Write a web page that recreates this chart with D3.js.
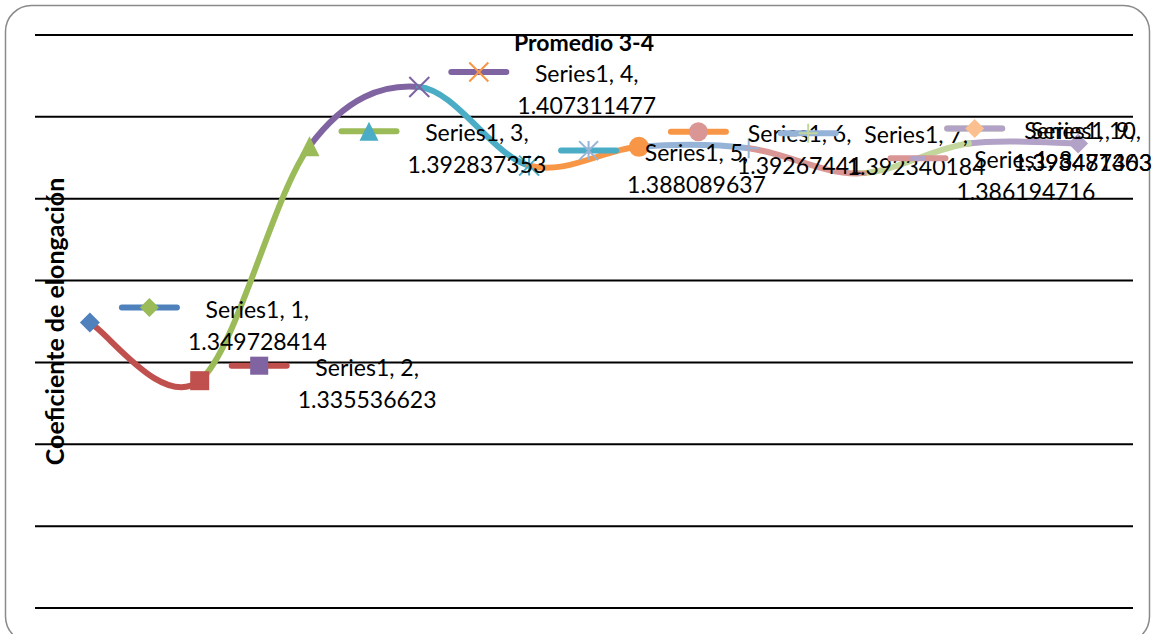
<!DOCTYPE html>
<html>
<head>
<meta charset="utf-8">
<script src="https://cdn.jsdelivr.net/npm/d3@7"></script>
<style>
  html, body { margin: 0; padding: 0; background: #fff; }
  svg { display: block; }
  text { font-family: Lato, "Open Sans", sans-serif; fill: #000; }
</style>
</head>
<body>
<svg id="chart" width="1155" height="634"></svg>
<script>
// Coeficiente de elongación por muestra (Promedio 3-4)
const seriesName = "Series1";
const categories = [1, 2, 3, 4, 5, 6, 7, 8, 9, 10];
const values = [1.349728414, 1.335536623, 1.392837353, 1.407311477, 1.388089637,
                1.39267441, 1.392340184, 1.386194716, 1.393487463, 1.393471303];
const valueLabels = ["1.349728414", "1.335536623", "1.392837353", "1.407311477", "1.388089637",
                     "1.39267441", "1.392340184", "1.386194716", "1.393487463", "1.393471303"];
const yTicks = [1.28, 1.30, 1.32, 1.34, 1.36, 1.38, 1.40, 1.42];
const chartTitle = "Promedio 3-4";
const yTitle = "Coeficiente de elongación";

// Office palette used when colours vary by point
const palette = ["#4F81BD", "#C0504D", "#9BBB59", "#8064A2", "#4BACC6", "#F79646",
                 "#95B3D7", "#D99694", "#C3D69B", "#B3A2C7", "#93CDDD", "#FAC090"];
const markerCycle = ["diamond", "square", "triangle", "x", "star", "circle", "plus", "dash", "dot"];

const svg = d3.select("#chart");
const plot = { left: 35, right: 1133, top: 35, bottom: 608 };

// chart area frame
svg.append("rect")
  .attr("x", 5.5).attr("y", 5.5)
  .attr("width", 1144).attr("height", 637)
  .attr("rx", 26).attr("ry", 26)
  .attr("fill", "#fff")
  .attr("stroke", "#8a8a8a").attr("stroke-width", 1.5);

const x = d3.scalePoint().domain(categories).range([plot.left, plot.right]).padding(0.5);
const y = d3.scaleLinear().domain([1.28, 1.42]).range([plot.bottom, plot.top]);

// horizontal gridlines
svg.append("g").selectAll("line").data(yTicks).join("line")
  .attr("x1", plot.left).attr("x2", plot.right)
  .attr("y1", d => y(d)).attr("y2", d => y(d))
  .attr("stroke", "#000").attr("stroke-width", 2);

const pts = categories.map((c, i) => ({ c, v: values[i], px: x(c), py: y(values[i]), i }));

// smoothed line, one segment per point, coloured by the point it ends at
const k = 1 / 6;
const segG = svg.append("g");
for (let i = 0; i < pts.length - 1; i++) {
  const p0 = pts[Math.max(i - 1, 0)], p1 = pts[i], p2 = pts[i + 1], p3 = pts[Math.min(i + 2, pts.length - 1)];
  const path = d3.path();
  path.moveTo(p1.px, p1.py);
  path.bezierCurveTo(
    p1.px + k * (p2.px - p0.px), p1.py + k * (p2.py - p0.py),
    p2.px - k * (p3.px - p1.px), p2.py - k * (p3.py - p1.py),
    p2.px, p2.py);
  segG.append("path")
    .attr("d", path.toString())
    .attr("fill", "none")
    .attr("stroke", palette[(i + 1) % palette.length])
    .attr("stroke-width", 6)
    .attr("stroke-linecap", "round");
}

function drawMarker(g, shape, cx, cy, color, s) {
  const h = s / 2;
  if (shape === "diamond") {
    g.append("path").attr("d", `M${cx},${cy - h}L${cx + h},${cy}L${cx},${cy + h}L${cx - h},${cy}Z`).attr("fill", color);
  } else if (shape === "square") {
    g.append("rect").attr("x", cx - h * 0.95).attr("y", cy - h * 0.95).attr("width", s * 0.95).attr("height", s * 0.95).attr("fill", color);
  } else if (shape === "triangle") {
    g.append("path").attr("d", `M${cx},${cy - h}L${cx + h},${cy + h}L${cx - h},${cy + h}Z`).attr("fill", color);
  } else if (shape === "x") {
    g.append("path").attr("d", `M${cx - h},${cy - h}L${cx + h},${cy + h}M${cx + h},${cy - h}L${cx - h},${cy + h}`)
      .attr("stroke", color).attr("stroke-width", 2).attr("fill", "none");
  } else if (shape === "star") {
    g.append("path").attr("d", `M${cx - h},${cy - h}L${cx + h},${cy + h}M${cx + h},${cy - h}L${cx - h},${cy + h}M${cx},${cy - h}L${cx},${cy + h}`)
      .attr("stroke", color).attr("stroke-width", 2).attr("fill", "none");
  } else if (shape === "circle") {
    g.append("circle").attr("cx", cx).attr("cy", cy).attr("r", h).attr("fill", color);
  } else if (shape === "plus") {
    g.append("path").attr("d", `M${cx - h},${cy}L${cx + h},${cy}M${cx},${cy - h}L${cx},${cy + h}`)
      .attr("stroke", color).attr("stroke-width", 2).attr("fill", "none");
  } else if (shape === "dash") {
    g.append("rect").attr("x", cx - h * 0.8).attr("y", cy - 2.5).attr("width", s * 0.8).attr("height", 5).attr("fill", color);
  } else if (shape === "dot") {
    g.append("circle").attr("cx", cx).attr("cy", cy).attr("r", 3.5).attr("fill", color);
  }
}

// point markers
const markG = svg.append("g");
pts.forEach(p => drawMarker(markG, markerCycle[p.i % markerCycle.length], p.px, p.py, palette[p.i % palette.length], 20));

// data labels with legend key: series name, category and value
const labelG = svg.append("g");
const fontSize = 23;
const rightLimit = 1152;
pts.forEach(p => {
  const g = labelG.append("g");
  const t1 = g.append("text").attr("font-size", fontSize).attr("text-anchor", "middle").text(`${seriesName}, ${p.c},`);
  const t2 = g.append("text").attr("font-size", fontSize).attr("text-anchor", "middle").text(valueLabels[p.i]);
  const tw = Math.max(t1.node().getComputedTextLength(), t2.node().getComputedTextLength());
  let textLeft = p.px + 98;
  if (textLeft + tw > rightLimit) textLeft = rightLimit - tw;
  const cx = textLeft + tw / 2;
  t1.attr("x", cx).attr("y", p.py - 5);
  t2.attr("x", cx).attr("y", p.py + 27);
  const keyLeft = textLeft - 66, keyRight = keyLeft + 55, keyY = p.py - 15;
  const key = g.insert("g", "text");
  key.append("line")
    .attr("x1", keyLeft).attr("x2", keyRight).attr("y1", keyY).attr("y2", keyY)
    .attr("stroke", palette[p.i % palette.length]).attr("stroke-width", 6).attr("stroke-linecap", "round");
  drawMarker(key, markerCycle[p.i % markerCycle.length], (keyLeft + keyRight) / 2, keyY, palette[(p.i + 2) % palette.length], 19);
});

// titles
svg.append("text")
  .attr("x", (plot.left + plot.right) / 2).attr("y", 51)
  .attr("text-anchor", "middle").attr("font-size", 23).attr("font-weight", "bold")
  .text(chartTitle);

svg.append("text")
  .attr("transform", `translate(64,${(plot.top + plot.bottom) / 2}) rotate(-90)`)
  .attr("text-anchor", "middle").attr("font-size", 25).attr("font-weight", "bold")
  .text(yTitle);
</script>
</body>
</html>
